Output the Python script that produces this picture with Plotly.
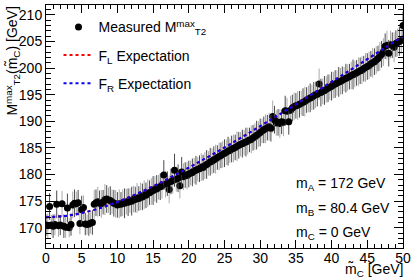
import numpy as np
import plotly.graph_objects as go

# ---------------- data ----------------
mc_trial = [round(0.25 * i, 2) for i in range(201)]  # 0 ... 50 GeV

mt2_measured = [
    170.5, 170.4, 174.0, 170.5, 170.3, 170.6, 174.4, 170.4, 170.5, 174.5,
    170.3, 170.1, 173.7, 170.0, 170.6, 174.3, 174.6, 174.5, 174.7, 170.8,
    173.4, 173.8, 170.7, 170.6, 170.7, 170.9, 171.0, 174.4, 174.7, 174.9,
    174.6, 174.5, 174.8, 175.3, 175.4, 175.2, 175.1, 174.9, 174.6, 174.5,
    174.3, 174.5, 174.4, 174.7, 174.6, 174.9, 174.8, 175.1, 175.0, 175.4,
    175.3, 175.6, 175.5, 175.9, 175.8, 176.2, 176.1, 176.5, 176.6, 176.8,
    177.0, 177.3, 177.3, 177.6, 177.7, 177.9, 179.9, 178.2, 178.3, 177.2,
    178.7, 178.9, 180.8, 179.1, 179.3, 177.9, 180.5, 179.6, 179.9, 179.8,
    180.1, 180.3, 180.4, 180.7, 180.8, 181.0, 181.1, 181.4, 181.3, 181.7,
    181.9, 182.1, 182.4, 182.5, 182.8, 182.9, 183.2, 183.4, 183.6, 183.8,
    184.0, 184.2, 184.4, 184.5, 184.8, 184.9, 185.1, 185.3, 185.5, 185.7,
    185.8, 186.0, 186.1, 186.3, 186.5, 186.6, 186.9, 187.1, 187.4, 187.6,
    187.9, 188.2, 188.4, 188.6, 188.8, 189.0, 188.7, 190.9, 190.3, 189.7,
    189.8, 189.6, 189.9, 189.8, 192.0, 191.9, 189.9, 192.1, 192.5, 192.8,
    192.9, 193.0, 193.2, 193.4, 193.6, 193.7, 194.0, 194.2, 194.4, 194.5,
    194.8, 195.0, 195.1, 197.0, 195.4, 195.6, 195.8, 196.0, 196.2, 196.4,
    196.6, 196.8, 197.0, 197.2, 197.4, 197.5, 197.7, 197.9, 198.1, 198.2,
    198.4, 198.6, 198.8, 198.9, 199.1, 199.3, 199.5, 199.6, 199.9, 200.1,
    200.3, 200.5, 200.8, 201.0, 201.2, 201.5, 201.8, 202.2, 202.6, 203.0,
    204.1, 204.3, 202.8, 204.4, 204.3, 203.9, 204.6, 204.8, 205.0, 205.2,
    208.0,
]

mt2_error = [
    2.0, 2.3, 2.5, 1.9, 2.2, 2.0, 2.6, 2.1, 1.9, 2.4,
    2.2, 2.0, 2.7, 1.8, 2.1, 2.5, 2.6, 2.3, 2.4, 2.0,
    2.6, 2.3, 2.1, 1.9, 2.2, 2.0, 2.3, 2.7, 2.5, 2.8,
    2.4, 2.6, 2.3, 2.9, 2.6, 2.4, 2.7, 2.3, 2.5, 2.6,
    2.4, 2.7, 2.3, 2.5, 2.8, 2.4, 2.6, 2.3, 2.7, 2.5,
    2.4, 2.8, 2.3, 2.6, 2.5, 2.7, 2.4, 2.6, 2.3, 2.5,
    2.7, 2.4, 2.6, 2.3, 2.5, 2.4, 2.8, 2.5, 2.3, 2.6,
    2.4, 2.5, 3.1, 2.3, 2.6, 2.4, 2.8, 2.5, 2.4, 2.6,
    2.5, 2.3, 2.6, 2.4, 2.7, 2.3, 2.5, 2.6, 2.4, 2.5,
    2.7, 2.3, 2.6, 2.4, 2.5, 2.7, 2.3, 2.6, 2.4, 2.5,
    2.6, 2.4, 2.7, 2.3, 2.5, 2.6, 2.4, 2.8, 2.5, 2.3,
    2.6, 2.4, 2.7, 2.5, 2.3, 2.6, 2.4, 2.5, 2.7, 2.4,
    2.6, 2.3, 2.5, 2.7, 2.4, 2.6, 2.5, 3.0, 2.6, 2.4,
    2.5, 2.7, 2.3, 2.6, 2.8, 2.5, 2.4, 2.7, 2.5, 2.6,
    2.4, 2.7, 2.5, 2.3, 2.6, 2.8, 2.4, 2.5, 2.7, 2.4,
    2.6, 2.5, 2.3, 2.9, 2.6, 2.4, 2.7, 2.5, 2.6, 2.4,
    2.7, 2.5, 2.6, 2.4, 2.8, 2.5, 2.6, 2.3, 2.7, 2.5,
    2.4, 2.6, 2.8, 2.5, 2.4, 2.7, 2.5, 2.6, 2.4, 2.7,
    2.5, 2.6, 2.4, 2.8, 2.5, 2.6, 2.4, 2.7, 2.5, 2.6,
    2.4, 2.7, 2.5, 2.6, 2.4, 2.8, 2.5, 2.6, 2.7, 2.5,
    2.6,
]

exp_mc = [0, 2.5, 5, 7.5, 10, 12.5, 15, 17.5, 20, 22.5, 25, 27.5, 30,
          32.5, 35, 37.5, 40, 42.5, 45, 47.5, 50]
exp_fl = [172.0, 172.2, 172.77, 173.67, 174.85, 176.24, 177.8, 179.5, 181.29,
          183.16, 185.09, 187.06, 189.08, 191.13, 193.2, 195.3, 197.41, 199.53,
          201.67, 203.83, 205.98]
exp_fr = [172.0, 172.2, 172.77, 173.67, 174.85, 176.24, 177.8, 179.5, 181.29,
          183.16, 185.09, 187.06, 189.08, 191.13, 193.2, 195.3, 197.41, 199.53,
          201.67, 203.83, 205.98]

y_ticks = [170, 175, 180, 185, 190, 195, 200, 205, 210]
x_ticks = [0, 5, 10, 15, 20, 25, 30, 35, 40, 45, 50]

FONT = "Liberation Sans, Arial, Helvetica, sans-serif"

fig = go.Figure()

# measured points: two interleaved sets of error bars (dark / light grey)
fig.add_trace(go.Scatter(
    x=mc_trial[1::2], y=mt2_measured[1::2],
    mode="markers",
    marker=dict(color="black", size=7),
    error_y=dict(type="data", array=mt2_error[1::2], color="#aaaaaa",
                 thickness=1, width=0),
    legendgroup="meas", showlegend=False, hoverinfo="skip",
))
fig.add_trace(go.Scatter(
    x=mc_trial[0::2], y=mt2_measured[0::2],
    mode="markers",
    name="Measured M<sup>max</sup><sub>T2</sub>",
    marker=dict(color="black", size=7),
    error_y=dict(type="data", array=mt2_error[0::2], color="#4a4a4a",
                 thickness=1, width=0),
    legendgroup="meas",
))
fig.add_trace(go.Scatter(
    x=exp_mc, y=exp_fl, mode="lines", line_shape="spline",
    name="F<sub>L</sub> Expectation",
    line=dict(color="#ff0000", width=2, dash="dot"),
    legendgroup="fl",
))
fig.add_trace(go.Scatter(
    x=exp_mc, y=exp_fr, mode="lines", line_shape="spline",
    name="F<sub>R</sub> Expectation",
    line=dict(color="#0000ff", width=2, dash="dot"),
    legendgroup="fr",
))

axis_common = dict(
    showline=True, linecolor="black", linewidth=1, mirror="allticks",
    ticks="inside", tickcolor="black", showgrid=False, zeroline=False,
    tickfont=dict(family=FONT, size=14, color="black"),
)

fig.update_xaxes(
    range=[0, 50], tickvals=x_ticks, ticklen=8, ticklabelstandoff=-3,
    minor=dict(dtick=1, ticks="inside", ticklen=4, tickcolor="black", showgrid=False),
    **axis_common,
)
fig.update_yaxes(
    range=[166.2, 211.85], tickvals=y_ticks, ticklen=9,
    minor=dict(dtick=1, ticks="inside", ticklen=5, tickcolor="black", showgrid=False),
    **axis_common,
)

fig.update_layout(
    width=415, height=280,
    margin=dict(l=46, r=10, t=4, b=32),
    paper_bgcolor="white", plot_bgcolor="white",
    font=dict(family=FONT, size=14, color="black"),
    legend=dict(
        x=0.035, y=0.974, xanchor="left", yanchor="top",
        bgcolor="rgba(0,0,0,0)", borderwidth=0,
        font=dict(family=FONT, size=14, color="black"),
        tracegroupgap=7, itemwidth=30,
    ),
    annotations=[
        dict(text="M<sup>max</sup><sub>T2</sub>(m\u0303<sub>C</sub>) [GeV]",
             xref="paper", yref="paper", x=-0.095, y=1.0,
             xanchor="center", yanchor="top", textangle=-90,
             showarrow=False, font=dict(family=FONT, size=14)),
        dict(text="m\u0303<sub>C</sub> [GeV]",
             xref="paper", yref="paper", x=1.0, y=-0.092, xshift=2,
             xanchor="right", yanchor="middle",
             showarrow=False, font=dict(family=FONT, size=14)),
        dict(text="m<sub>A</sub> = 172 GeV", xref="paper", yref="paper",
             x=0.694, y=0.262, xanchor="left", yanchor="middle",
             showarrow=False, font=dict(family=FONT, size=14)),
        dict(text="m<sub>B</sub> = 80.4 GeV", xref="paper", yref="paper",
             x=0.694, y=0.16, xanchor="left", yanchor="middle",
             showarrow=False, font=dict(family=FONT, size=14)),
        dict(text="m<sub>C</sub> = 0 GeV", xref="paper", yref="paper",
             x=0.694, y=0.062, xanchor="left", yanchor="middle",
             showarrow=False, font=dict(family=FONT, size=14)),
    ],
)

fig.write_html(
    "out.html",
    config={"displayModeBar": False},
    post_script="document.body.style.margin='0px';document.body.style.overflow='hidden';",
)
